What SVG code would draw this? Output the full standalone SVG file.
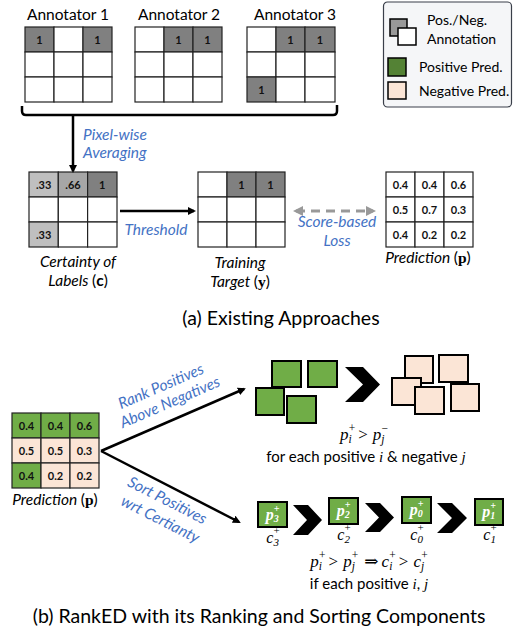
<svg xmlns="http://www.w3.org/2000/svg" width="513" height="635" viewBox="0 0 513 635">
<style>
.t{font-family:Lato,"Open Sans","Liberation Sans",sans-serif;fill:#000}
.blue{font-family:Lato,"Open Sans","Liberation Sans",sans-serif;font-style:italic;fill:#4472c4;font-size:15.5px}
.cell{fill:#fff;stroke:#222;stroke-width:1.2}
.g1{fill:#808080;stroke:#222;stroke-width:1.2}
.g2{fill:#a6a6a6;stroke:#222;stroke-width:1.2}
.g3{fill:#bfbfbf;stroke:#222;stroke-width:1.2}
.pos{fill:#70ad47;stroke:#222;stroke-width:1.2}
.neg{fill:#fbe5d6;stroke:#222;stroke-width:1.2}
.num{font-family:Lato,"Open Sans","Liberation Sans",sans-serif;font-weight:bold;font-size:11px;text-anchor:middle;fill:#111}
.sq{stroke:#000;stroke-width:2}
.m{font-family:"Liberation Serif","DejaVu Serif",serif;font-style:italic}
.conn{stroke:#000;stroke-width:2.5;fill:none}
</style>
<defs>
<marker id="ah" markerWidth="8" markerHeight="8" refX="6" refY="4" orient="auto" markerUnits="userSpaceOnUse" viewBox="0 0 8 8"><path d="M0,0 L8,4 L0,8 z" fill="#000"/></marker>
<marker id="ahg" markerWidth="10" markerHeight="10" refX="7" refY="5" orient="auto-start-reverse" markerUnits="userSpaceOnUse" viewBox="0 0 10 10"><path d="M0,0 L10,5 L0,10 z" fill="#999"/></marker>
</defs>

<!-- Annotators -->
<g id="annotator1">
<text class="t" x="68" y="20" font-size="15.5" text-anchor="middle">Annotator 1</text>
<rect class="g1" x="25" y="27" width="29" height="25"/><rect class="cell" x="54" y="27" width="29" height="25"/><rect class="g1" x="83" y="27" width="29" height="25"/>
<rect class="cell" x="25" y="52" width="29" height="25"/><rect class="cell" x="54" y="52" width="29" height="25"/><rect class="cell" x="83" y="52" width="29" height="25"/>
<rect class="cell" x="25" y="77" width="29" height="25"/><rect class="cell" x="54" y="77" width="29" height="25"/><rect class="cell" x="83" y="77" width="29" height="25"/>
<text class="num" x="39.5" y="43.5">1</text><text class="num" x="97.5" y="43.5">1</text>
</g>
<g id="annotator2">
<text class="t" x="179" y="20" font-size="15.5" text-anchor="middle">Annotator 2</text>
<rect class="cell" x="135" y="27" width="29" height="25"/><rect class="g1" x="164" y="27" width="29" height="25"/><rect class="g1" x="193" y="27" width="29" height="25"/>
<rect class="cell" x="135" y="52" width="29" height="25"/><rect class="cell" x="164" y="52" width="29" height="25"/><rect class="cell" x="193" y="52" width="29" height="25"/>
<rect class="cell" x="135" y="77" width="29" height="25"/><rect class="cell" x="164" y="77" width="29" height="25"/><rect class="cell" x="193" y="77" width="29" height="25"/>
<text class="num" x="178.5" y="43.5">1</text><text class="num" x="207.5" y="43.5">1</text>
</g>
<g id="annotator3">
<text class="t" x="295" y="20" font-size="15.5" text-anchor="middle">Annotator 3</text>
<rect class="cell" x="247" y="27" width="29" height="25"/><rect class="g1" x="276" y="27" width="29" height="25"/><rect class="g1" x="305" y="27" width="30" height="25"/>
<rect class="cell" x="247" y="52" width="29" height="25"/><rect class="cell" x="276" y="52" width="29" height="25"/><rect class="cell" x="305" y="52" width="30" height="25"/>
<rect class="g1" x="247" y="77" width="29" height="25"/><rect class="cell" x="276" y="77" width="29" height="25"/><rect class="cell" x="305" y="77" width="30" height="25"/>
<text class="num" x="290.5" y="43.5">1</text><text class="num" x="320" y="43.5">1</text><text class="num" x="261.5" y="93.5">1</text>
</g>

<!-- Legend -->
<g id="legend">
<rect x="383.5" y="2" width="128" height="105" rx="4" fill="#f5f6f8" stroke="#3a3f4a" stroke-width="1.2"/>
<rect x="390" y="19" width="17" height="17" fill="#999" stroke="#000" stroke-width="1.5"/>
<rect x="398" y="28" width="18" height="17" fill="#fff" stroke="#000" stroke-width="1.5"/>
<text class="t" x="427" y="25" font-size="14">Pos./Neg.</text>
<text class="t" x="427" y="44" font-size="14">Annotation</text>
<rect x="388" y="58" width="18" height="18" fill="#548235" stroke="#000" stroke-width="1.5"/>
<text class="t" x="419" y="72" font-size="14">Positive Pred.</text>
<rect x="388" y="82" width="18" height="17" fill="#fbe5d6" stroke="#000" stroke-width="1.5"/>
<text class="t" x="419" y="96" font-size="14">Negative Pred.</text>
</g>

<!-- Certainty -->
<g id="certainty">
<rect class="g3" x="29" y="172" width="29.3" height="25"/><rect class="g2" x="58.3" y="172" width="29.3" height="25"/><rect class="g1" x="87.6" y="172" width="29.4" height="25"/>
<rect class="cell" x="29" y="197" width="29.3" height="25"/><rect class="cell" x="58.3" y="197" width="29.3" height="25"/><rect class="cell" x="87.6" y="197" width="29.4" height="25"/>
<rect class="g3" x="29" y="222" width="29.3" height="25"/><rect class="cell" x="58.3" y="222" width="29.3" height="25"/><rect class="cell" x="87.6" y="222" width="29.4" height="25"/>
<text class="num" x="43.6" y="188.5">.33</text><text class="num" x="73" y="188.5">.66</text><text class="num" x="102.3" y="188.5">1</text>
<text class="num" x="43.6" y="238.5">.33</text>
<text class="t" x="78" y="267" font-size="15.5" font-style="italic" text-anchor="middle">Certainty of</text>
<text class="t" x="78" y="286" font-size="15.5" text-anchor="middle"><tspan font-style="italic">Labels </tspan>(<tspan font-weight="bold">c</tspan>)</text>
</g>

<!-- Training target -->
<g id="target">
<rect class="cell" x="198" y="172" width="29" height="25"/><rect class="g1" x="227" y="172" width="29" height="25"/><rect class="g1" x="256" y="172" width="29" height="25"/>
<rect class="cell" x="198" y="197" width="29" height="25"/><rect class="cell" x="227" y="197" width="29" height="25"/><rect class="cell" x="256" y="197" width="29" height="25"/>
<rect class="cell" x="198" y="222" width="29" height="25"/><rect class="cell" x="227" y="222" width="29" height="25"/><rect class="cell" x="256" y="222" width="29" height="25"/>
<text class="num" x="241.5" y="188.5">1</text><text class="num" x="270.5" y="188.5">1</text>
<text class="t" x="240" y="268" font-size="15.5" font-style="italic" text-anchor="middle">Training</text>
<text class="t" x="240" y="287" font-size="15.5" text-anchor="middle"><tspan font-style="italic">Target </tspan>(<tspan font-family="Liberation Serif,serif" font-weight="bold">y</tspan>)</text>
</g>

<!-- Prediction a -->
<g id="prediction-a">
<rect class="cell" x="386" y="172" width="29" height="25"/><rect class="cell" x="415" y="172" width="29" height="25"/><rect class="cell" x="444" y="172" width="29" height="25"/>
<rect class="cell" x="386" y="197" width="29" height="25"/><rect class="cell" x="415" y="197" width="29" height="25"/><rect class="cell" x="444" y="197" width="29" height="25"/>
<rect class="cell" x="386" y="222" width="29" height="25"/><rect class="cell" x="415" y="222" width="29" height="25"/><rect class="cell" x="444" y="222" width="29" height="25"/>
<text class="num" x="400.5" y="188.5">0.4</text><text class="num" x="429.5" y="188.5">0.4</text><text class="num" x="458.5" y="188.5">0.6</text>
<text class="num" x="400.5" y="213.5">0.5</text><text class="num" x="429.5" y="213.5">0.7</text><text class="num" x="458.5" y="213.5">0.3</text>
<text class="num" x="400.5" y="238.5">0.4</text><text class="num" x="429.5" y="238.5">0.2</text><text class="num" x="458.5" y="238.5">0.2</text>
<text class="t" x="428" y="263" font-size="15.5" text-anchor="middle"><tspan font-style="italic">Prediction </tspan>(<tspan font-family="Liberation Serif,serif" font-weight="bold">p</tspan>)</text>
</g>

<text class="t" x="281" y="325" font-size="19.5" text-anchor="middle">(a) Existing Approaches</text>

<!-- Part b prediction -->
<g id="prediction-b">
<rect class="pos" x="12" y="413" width="29" height="25"/><rect class="pos" x="41" y="413" width="29" height="25"/><rect class="pos" x="70" y="413" width="29" height="25"/>
<rect class="neg" x="12" y="438" width="29" height="25"/><rect class="neg" x="41" y="438" width="29" height="25"/><rect class="neg" x="70" y="438" width="29" height="25"/>
<rect class="pos" x="12" y="463" width="29" height="25"/><rect class="neg" x="41" y="463" width="29" height="25"/><rect class="neg" x="70" y="463" width="29" height="25"/>
<text class="num" x="26.5" y="429.5">0.4</text><text class="num" x="55.5" y="429.5">0.4</text><text class="num" x="84.5" y="429.5">0.6</text>
<text class="num" x="26.5" y="454.5">0.5</text><text class="num" x="55.5" y="454.5">0.5</text><text class="num" x="84.5" y="454.5">0.3</text>
<text class="num" x="26.5" y="479.5">0.4</text><text class="num" x="55.5" y="479.5">0.2</text><text class="num" x="84.5" y="479.5">0.2</text>
<text class="t" x="55" y="505" font-size="15.5" text-anchor="middle"><tspan font-style="italic">Prediction </tspan>(<tspan font-family="Liberation Serif,serif" font-weight="bold">p</tspan>)</text>
</g>

<!-- Ranking -->
<g id="ranking">
<rect class="sq" fill="#70ad47" x="272" y="361" width="29" height="26"/>
<rect class="sq" fill="#70ad47" x="308" y="361" width="29" height="26"/>
<rect class="sq" fill="#70ad47" x="256" y="388" width="28" height="27"/>
<rect class="sq" fill="#70ad47" x="287" y="396" width="29" height="27"/>
<polygon points="345,367 363,367 380,384.5 363,402 345,402 363,384.5" fill="#000"/>
<rect class="sq" fill="#fbe5d6" x="405" y="356" width="28" height="27"/>
<rect class="sq" fill="#fbe5d6" x="439" y="355" width="29" height="27"/>
<rect class="sq" fill="#fbe5d6" x="392" y="378" width="29" height="27"/>
<rect class="sq" fill="#fbe5d6" x="415" y="387" width="29" height="27"/>
<rect class="sq" fill="#fbe5d6" x="451" y="384" width="28" height="27"/>
<text class="m" x="364" y="440" font-size="17" text-anchor="middle">p<tspan font-size="11.5" dy="3">i</tspan><tspan font-size="11.5" dx="-3" dy="-11" font-style="normal">+</tspan><tspan dx="3" dy="8" font-style="normal">&gt;</tspan><tspan dx="5">p</tspan><tspan font-size="11.5" dy="3">j</tspan><tspan font-size="11.5" dx="-3" dy="-11" font-style="normal">−</tspan></text>
<text class="t" x="366" y="462" font-size="15" text-anchor="middle">for each positive <tspan class="m">i</tspan> &amp; negative <tspan class="m">j</tspan></text>
</g>

<!-- Sorting -->
<g id="sorting">
<rect class="sq" fill="#70ad47" x="258" y="502" width="29" height="25"/>
<rect class="sq" fill="#70ad47" x="329" y="498" width="29" height="26"/>
<rect class="sq" fill="#70ad47" x="402" y="497" width="29" height="26"/>
<rect class="sq" fill="#70ad47" x="475" y="499" width="28" height="26"/>
<g class="m" fill="#fff" font-weight="bold" font-size="16" text-anchor="middle">
<text x="272.5" y="520">p<tspan font-size="10" dy="2">3</tspan><tspan font-size="10" dx="-5" dy="-10">+</tspan></text>
<text x="343.5" y="516">p<tspan font-size="10" dy="2">2</tspan><tspan font-size="10" dx="-5" dy="-10">+</tspan></text>
<text x="416.5" y="515">p<tspan font-size="10" dy="2">0</tspan><tspan font-size="10" dx="-5" dy="-10">+</tspan></text>
<text x="489" y="517">p<tspan font-size="10" dy="2">1</tspan><tspan font-size="10" dx="-5" dy="-10">+</tspan></text>
</g>
<polygon points="293,505 308,505 322,520 308,535 293,535 307,520" fill="#000"/>
<polygon points="365,503 380,503 394,517.5 380,532 365,532 379,517.5" fill="#000"/>
<polygon points="437,503 452,503 467,518 452,533 437,533 452,518" fill="#000"/>
<g class="m" font-size="16" text-anchor="middle">
<text x="273" y="543">c<tspan font-size="11" dy="3">3</tspan><tspan font-size="11" dx="-5.5" dy="-12" font-style="normal">+</tspan></text>
<text x="344" y="540">c<tspan font-size="11" dy="3">2</tspan><tspan font-size="11" dx="-5.5" dy="-12" font-style="normal">+</tspan></text>
<text x="417" y="540">c<tspan font-size="11" dy="3">0</tspan><tspan font-size="11" dx="-5.5" dy="-12" font-style="normal">+</tspan></text>
<text x="490" y="540">c<tspan font-size="11" dy="3">1</tspan><tspan font-size="11" dx="-5.5" dy="-12" font-style="normal">+</tspan></text>
</g>
<text class="m" x="369" y="567" font-size="17" text-anchor="middle">p<tspan font-size="11.5" dy="3">i</tspan><tspan font-size="11.5" dx="-3" dy="-11" font-style="normal">+</tspan><tspan dx="3" dy="8" font-style="normal">&gt;</tspan><tspan dx="5">p</tspan><tspan font-size="11.5" dy="3">j</tspan><tspan font-size="11.5" dx="-3" dy="-11" font-style="normal">+</tspan><tspan dx="6" dy="8" font-style="normal">⇒</tspan><tspan dx="3">c</tspan><tspan font-size="11.5" dy="3">i</tspan><tspan font-size="11.5" dx="-3" dy="-11" font-style="normal">+</tspan><tspan dx="3" dy="8" font-style="normal">&gt;</tspan><tspan dx="5">c</tspan><tspan font-size="11.5" dy="3">j</tspan><tspan font-size="11.5" dx="-3" dy="-11" font-style="normal">+</tspan></text>
<text class="t" x="369" y="589" font-size="15" text-anchor="middle">if each positive <tspan class="m">i</tspan>, <tspan class="m">j</tspan></text>
</g>

<text class="t" x="259" y="623" font-size="19.5" text-anchor="middle">(b) RankED with its Ranking and Sorting Components</text>

<!-- Connectors -->
<g id="connectors">
<path class="conn" d="M22,106 V111 Q22,115 26,115 H333 Q337,115 337,111 V105" stroke-width="3"/>
<line class="conn" x1="73" y1="115" x2="73" y2="171" marker-end="url(#ah)"/>
<line class="conn" x1="120" y1="211" x2="194" y2="211" marker-end="url(#ah)"/>
<line x1="296" y1="211" x2="373" y2="211" stroke="#999" stroke-width="3" stroke-dasharray="9,6" marker-start="url(#ahg)" marker-end="url(#ahg)"/>
<line class="conn" x1="101" y1="451" x2="244" y2="389" marker-end="url(#ah)"/>
<line class="conn" x1="101" y1="451" x2="239" y2="522" marker-end="url(#ah)"/>
<text class="blue" x="83" y="140">Pixel-wise</text>
<text class="blue" x="83" y="158">Averaging</text>
<text class="blue" x="156" y="235" text-anchor="middle">Threshold</text>
<text class="blue" x="337" y="227" text-anchor="middle">Score-based</text>
<text class="blue" x="337" y="246" text-anchor="middle">Loss</text>
<text class="blue" text-anchor="middle" transform="translate(163,391) rotate(-23.5)">Rank Positives</text>
<text class="blue" text-anchor="middle" transform="translate(172,407) rotate(-23.5)">Above Negatives</text>
<text class="blue" text-anchor="middle" transform="translate(165,505) rotate(27)">Sort Positives</text>
<text class="blue" text-anchor="middle" transform="translate(158,524) rotate(27)">wrt Certianty</text>
</g>
</svg>
